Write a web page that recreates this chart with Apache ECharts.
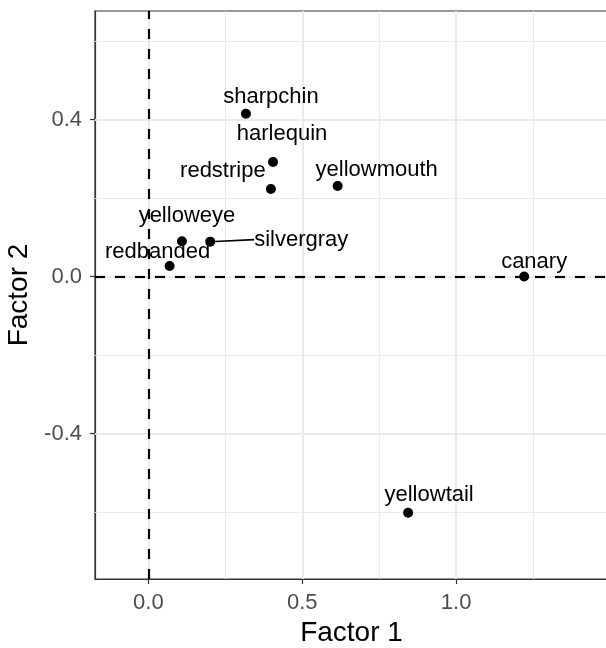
<!DOCTYPE html>
<html><head><meta charset="utf-8">
<script src="https://cdn.jsdelivr.net/npm/echarts@6/dist/echarts.min.js"></script>
<style>html,body{margin:0;padding:0;background:#fff}#c{width:606px;height:648px}</style>
</head><body><div id="c"></div>
<script>
// ---- data ----
const species = ['sharpchin','harlequin','redstripe','yellowmouth','yelloweye','silvergray','redbanded','canary','yellowtail'];
const factor1 = [0.317, 0.405, 0.398, 0.615, 0.109, 0.201, 0.069, 1.221, 0.844];
const factor2 = [0.415, 0.292, 0.223, 0.231, 0.090, 0.089, 0.027, 0.000, -0.602];
const xTicks = [0, 0.5, 1.0];
const yTicks = [-0.4, 0, 0.4];
const xMinor = [0.25, 0.75, 1.25];
const yMinor = [-0.6, -0.2, 0.2, 0.6];
const segmentLabels = ['silvergray'];
// label placement (style, px offsets from the point)
const labelOffsets = [[25,-17],[9,-28],[-48,-18],[39,-16],[5,-25],[91,-2],[-12,-14],[10,-15],[21,-18]];

const FONT = "'Liberation Sans', Arial, sans-serif";
const chart = echarts.init(document.getElementById('c'), null, {renderer:'canvas'});

const gridLines = [];
xMinor.forEach(v => gridLines.push({xAxis: v, lineStyle: {width: 1}}));
yMinor.forEach(v => gridLines.push({yAxis: v, lineStyle: {width: 1}}));
xTicks.forEach(v => gridLines.push({xAxis: v, lineStyle: {width: 2}}));
yTicks.forEach(v => gridLines.push({yAxis: v, lineStyle: {width: 2}}));

const points = factor1.map((x, i) => {
  const item = {name: species[i], value: [x, factor2[i]]};
  if (segmentLabels.includes(species[i])) item.labelLine = {show: true};
  return item;
});

chart.setOption({
  animation: false,
  backgroundColor: '#fff',
  textStyle: {fontFamily: FONT},
  grid: {left: 95, top: 11, width: 513, bottom: 69, show: true, borderColor: '#333', borderWidth: 1.2, backgroundColor: '#fff', containLabel: false, outerBoundsMode: 'none'},
  xAxis: {
    type: 'value', min: -0.1735, max: 1.4935, position: 'bottom',
    axisLine: {show: true, onZero: false, lineStyle: {color: '#333', width: 1.2}},
    axisTick: {show: true, length: 5, customValues: xTicks, lineStyle: {color: '#333', width: 1.2}},
    axisLabel: {customValues: xTicks, formatter: v => Number(v).toFixed(1), color: '#4d4d4d', fontSize: 22, margin: 13, fontFamily: FONT},
    splitLine: {show: false},
    name: 'Factor 1', nameLocation: 'middle', nameGap: 40,
    nameTextStyle: {fontSize: 28, color: '#000', fontFamily: FONT}
  },
  yAxis: {
    type: 'value', min: -0.771, max: 0.677,
    axisLine: {show: true, onZero: false, lineStyle: {color: '#333', width: 1.2}},
    axisTick: {show: true, length: 5, customValues: yTicks, lineStyle: {color: '#333', width: 1.2}},
    axisLabel: {customValues: yTicks, formatter: v => Number(v).toFixed(1), color: '#4d4d4d', fontSize: 22, margin: 13, fontFamily: FONT},
    splitLine: {show: false},
    name: 'Factor 2', nameLocation: 'middle', nameGap: 60, nameRotate: 90,
    nameTextStyle: {fontSize: 28, color: '#000', fontFamily: FONT}
  },
  series: [
    {
      type: 'scatter', data: [], silent: true, z: 1,
      markLine: {silent: true, symbol: 'none', label: {show: false}, animation: false,
        lineStyle: {color: '#ebebeb', type: 'solid'}, data: gridLines}
    },
    {
      type: 'scatter', data: [], silent: true, z: 2,
      markLine: {silent: true, symbol: 'none', label: {show: false}, animation: false,
        lineStyle: {color: '#000', type: [10, 10], width: 2.2, opacity: 1},
        data: [{xAxis: 0}, {yAxis: 0}]}
    },
    {
      type: 'scatter', z: 5, symbolSize: 10,
      itemStyle: {color: '#000', opacity: 1},
      data: points,
      label: {show: true, position: 'inside', formatter: p => p.name, color: '#000', opacity: 1, textBorderWidth: 0, fontSize: 22, fontFamily: FONT},
      labelLine: {show: false, lineStyle: {color: '#000', width: 1.6, opacity: 1}},
      labelLayout: p => ({dx: labelOffsets[p.dataIndex][0], dy: labelOffsets[p.dataIndex][1]})
    }
  ]
});
</script></body></html>
